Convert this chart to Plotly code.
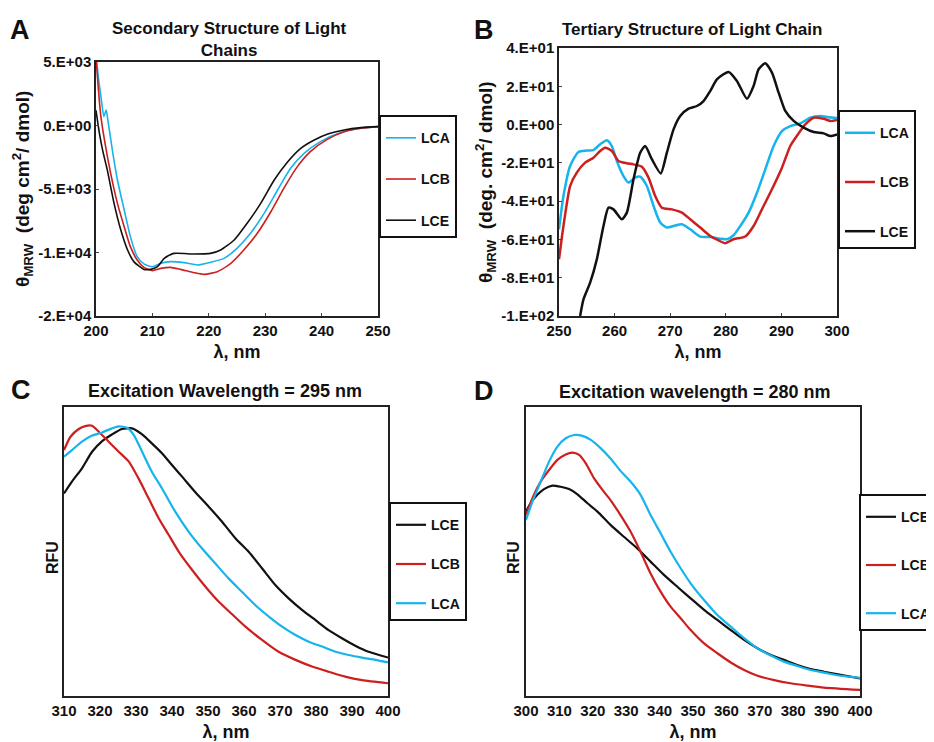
import plotly.graph_objects as go

# ---------------- Panel A: far-UV CD ----------------
a_lca_x = [200.0, 200.5, 200.8, 201.4, 201.8, 202.1, 202.9, 203.8, 205.0, 206.1, 207.3, 208.5, 210.0, 211.5, 213.2, 215.6, 218.0, 220.3, 222.7, 225.0, 227.4, 229.8, 232.2, 234.5, 236.9, 239.8, 243.4, 247.0, 250.0]
a_lca_y = [5600, 3500, 2530, 700, 1220, 440, -1930, -4290, -6650, -8750, -10320, -10900, -11120, -10850, -10720, -10800, -10980, -10770, -10460, -9670, -8490, -6920, -5080, -3370, -2190, -1270, -560, -220, -90]
a_lcb_x = [200.0, 200.4, 200.8, 201.4, 202.6, 203.8, 205.0, 206.1, 207.3, 208.5, 210.0, 211.5, 213.2, 215.0, 217.4, 219.2, 221.5, 223.9, 226.2, 228.6, 231.0, 233.3, 235.7, 238.0, 241.0, 244.0, 247.0, 250.0]
a_lcb_y = [5300, 3000, 960, -880, -3770, -6130, -7970, -9540, -10590, -11170, -11430, -11250, -11170, -11330, -11590, -11720, -11510, -10850, -9800, -8490, -6790, -4950, -3240, -2060, -1090, -490, -220, -90]
a_lce_x = [200.0, 200.6, 201.2, 202.0, 203.2, 204.4, 205.6, 206.7, 208.5, 209.7, 210.9, 212.1, 213.8, 217.4, 220.3, 222.1, 224.5, 226.8, 229.2, 231.6, 234.0, 236.3, 238.7, 241.1, 244.0, 247.0, 250.0]
a_lce_y = [1200, -600, -2000, -3500, -6130, -8230, -9800, -10720, -11330, -11330, -11120, -10460, -10070, -10120, -10070, -9800, -9020, -7700, -6130, -4290, -2850, -1800, -1140, -670, -350, -170, -90]
a_yticks = [5000, 0, -5000, -10000, -15000]
a_yticklabels = ["5.E+03", "0.E+00", "-5.E+03", "-1.E+04", "-2.E+04"]

# ---------------- Panel B: near-UV CD ----------------
b_lca_x = [250.0, 250.8, 252.0, 253.5, 255.0, 256.2, 257.4, 258.6, 259.5, 260.4, 261.6, 262.5, 263.7, 264.6, 265.8, 267.0, 268.2, 269.4, 270.6, 272.1, 273.6, 275.4, 277.2, 279.0, 280.2, 281.4, 282.6, 284.1, 285.6, 287.1, 288.6, 290.1, 291.6, 293.4, 295.2, 297.0, 298.5, 300.0]
b_lca_y = [-54.7, -37.3, -21.6, -14.3, -13.6, -13.3, -10.3, -8.2, -11.2, -19.0, -26.9, -30.3, -27.7, -27.2, -32.1, -42.5, -51.2, -53.8, -53.0, -52.1, -54.7, -58.5, -58.7, -59.6, -59.9, -57.8, -53.0, -46.0, -35.6, -23.4, -11.2, -3.4, -0.8, 0.6, 3.6, 4.5, 3.8, 3.4]
b_lcb_x = [250.0, 250.8, 252.0, 253.2, 254.7, 256.2, 257.4, 258.3, 259.5, 260.7, 262.2, 263.4, 264.9, 266.1, 267.3, 268.5, 270.3, 272.1, 273.6, 275.4, 277.2, 278.7, 279.9, 281.4, 283.5, 285.0, 286.5, 288.3, 290.1, 291.6, 293.1, 294.3, 295.8, 297.6, 298.8, 300.0]
b_lcb_y = [-70.4, -53.0, -32.1, -25.1, -19.9, -17.3, -13.8, -12.1, -13.8, -19.0, -20.2, -20.8, -22.0, -27.7, -37.3, -43.4, -44.3, -46.0, -49.5, -53.8, -58.2, -60.5, -62.0, -59.9, -58.5, -53.0, -44.3, -33.8, -22.5, -11.2, -4.6, 0.1, 3.6, 3.0, 1.9, 2.4]
b_lce_x = [253.8, 254.4, 255.6, 256.8, 258.0, 258.9, 259.8, 261.3, 262.2, 263.4, 264.6, 265.5, 266.7, 268.3, 269.4, 270.6, 271.8, 273.3, 274.8, 276.0, 277.2, 278.4, 280.5, 282.0, 283.8, 285.0, 285.9, 287.1, 288.3, 289.5, 290.7, 292.2, 294.0, 295.8, 297.6, 298.8, 300.0]
b_lce_y = [-100.0, -91.3, -82.6, -70.4, -53.0, -43.4, -44.3, -49.5, -46.0, -28.6, -14.7, -11.2, -18.1, -25.5, -14.7, -2.5, 4.5, 8.3, 9.7, 12.3, 17.5, 23.6, 27.5, 22.8, 13.5, 20.2, 28.9, 32.0, 27.1, 16.7, 7.1, 1.9, -1.6, -3.9, -4.6, -6.0, -5.1]
b_yticks = [40, 20, 0, -20, -40, -60, -80, -100]
b_yticklabels = ["4.E+01", "2.E+01", "0.E+00", "-2.E+01", "-4.E+01", "-6.E+01", "-8.E+01", "-1.E+02"]

# ---------------- Panel C: fluorescence, excitation 295 nm ----------------
c_lce_x = [310.0, 312.2, 315.0, 317.8, 320.6, 323.3, 326.1, 328.9, 331.7, 334.4, 337.2, 340.0, 342.8, 346.5, 350.2, 353.9, 357.6, 361.3, 365.0, 368.7, 372.4, 376.1, 379.8, 383.5, 387.2, 390.9, 394.6, 400.0]
c_lce_y = [70.1, 74.2, 78.8, 84.5, 88.2, 90.5, 92.4, 92.6, 90.5, 87.4, 84.0, 79.9, 75.9, 70.5, 65.5, 60.3, 54.6, 49.9, 44.2, 38.4, 33.8, 29.8, 26.3, 22.8, 20.0, 17.4, 15.3, 13.3]
c_lcb_x = [310.0, 311.8, 314.1, 315.9, 317.8, 319.6, 322.4, 325.2, 328.0, 330.7, 333.5, 336.3, 339.1, 341.9, 345.6, 349.3, 353.0, 356.7, 360.4, 365.0, 369.6, 374.3, 378.9, 383.5, 388.1, 392.8, 400.0]
c_lcb_y = [85.1, 89.7, 92.4, 93.4, 93.5, 91.5, 88.0, 84.5, 81.1, 75.3, 68.4, 61.5, 55.7, 49.9, 43.6, 37.8, 32.6, 28.3, 24.0, 19.4, 15.3, 12.5, 10.2, 8.4, 6.7, 5.5, 4.4]
c_lca_x = [310.0, 312.2, 315.0, 317.8, 320.6, 323.3, 325.2, 327.5, 329.4, 331.7, 334.4, 337.2, 340.9, 344.6, 348.3, 352.0, 355.7, 359.4, 363.1, 366.9, 370.6, 374.3, 378.0, 381.7, 385.4, 389.1, 392.8, 396.5, 400.0]
c_lca_y = [82.8, 85.1, 88.0, 90.1, 91.2, 92.6, 93.3, 92.8, 90.3, 84.5, 77.6, 71.9, 63.8, 56.9, 51.1, 45.9, 40.7, 36.1, 31.5, 27.5, 24.0, 21.1, 18.8, 17.1, 15.3, 14.2, 13.3, 12.5, 11.6]

# ---------------- Panel D: fluorescence, excitation 280 nm ----------------
d_lce_x = [300.0, 301.4, 303.4, 305.4, 307.9, 310.4, 312.9, 315.4, 318.4, 321.4, 325.3, 329.3, 333.3, 337.3, 341.3, 345.3, 349.3, 353.3, 357.3, 361.3, 365.3, 369.3, 373.3, 377.2, 381.2, 385.2, 389.2, 394.2, 400.0]
d_lce_y = [63.8, 66.7, 69.6, 71.6, 72.8, 72.4, 71.6, 69.8, 66.7, 63.8, 59.2, 55.1, 51.1, 46.5, 41.9, 37.8, 33.8, 29.8, 26.3, 22.8, 19.4, 16.5, 14.2, 12.5, 10.7, 9.3, 8.4, 7.3, 6.1]
d_lcb_x = [300.0, 301.9, 304.4, 306.9, 309.4, 311.9, 313.9, 315.9, 317.9, 320.4, 322.9, 325.3, 328.3, 331.3, 334.3, 337.3, 340.3, 343.3, 346.3, 349.3, 353.3, 357.3, 361.3, 365.3, 369.3, 374.3, 379.2, 384.2, 389.2, 400.0]
d_lcb_y = [62.6, 68.4, 74.2, 78.2, 81.7, 83.6, 84.2, 83.4, 80.5, 75.3, 71.3, 67.8, 62.6, 56.9, 49.9, 42.4, 36.1, 30.9, 26.9, 22.8, 18.2, 14.8, 11.6, 9.0, 7.0, 5.5, 4.4, 3.6, 2.9, 2.1]
d_lca_x = [300.0, 301.9, 304.4, 306.9, 309.4, 311.9, 314.4, 316.9, 319.4, 322.4, 325.3, 328.3, 331.3, 334.3, 337.3, 340.3, 343.3, 346.3, 349.3, 353.3, 357.3, 361.3, 365.3, 369.3, 373.3, 377.2, 381.2, 385.2, 389.2, 394.2, 400.0]
d_lca_y = [60.9, 67.2, 74.2, 81.1, 86.3, 89.2, 90.3, 90.0, 88.6, 85.7, 82.2, 77.9, 74.2, 69.6, 62.6, 56.3, 49.9, 44.2, 39.0, 33.2, 28.0, 24.0, 20.0, 16.5, 14.0, 11.9, 10.4, 9.0, 8.1, 7.0, 6.3]

BLUE = "#16b4ec"
RED = "#cc1f1f"
BLACK = "#111111"
OFF = 8                      # page body margin of the browser
W, H = 934 - OFF, 742 - OFF
NARROW = "Liberation Sans Narrow, Liberation Sans, Arial, sans-serif"
SANS = "Liberation Sans, Arial, sans-serif"

fig = go.Figure()

def add(x, y, name, color, width, xa, ya, legend):
    fig.add_trace(go.Scatter(x=x, y=y, mode="lines", name=name,
                             line=dict(color=color, width=width, shape="spline", smoothing=0.6),
                             xaxis=xa, yaxis=ya, legend=legend, legendgroup=legend + name))

add(a_lca_x, a_lca_y, "LCA", BLUE, 1.6, "x", "y", "legend")
add(a_lcb_x, a_lcb_y, "LCB", RED, 1.6, "x", "y", "legend")
add(a_lce_x, a_lce_y, "LCE", BLACK, 1.6, "x", "y", "legend")
add(b_lca_x, b_lca_y, "LCA", BLUE, 2.5, "x2", "y2", "legend2")
add(b_lcb_x, b_lcb_y, "LCB", RED, 2.5, "x2", "y2", "legend2")
add(b_lce_x, b_lce_y, "LCE", BLACK, 2.5, "x2", "y2", "legend2")
add(c_lce_x, c_lce_y, "LCE", BLACK, 2.2, "x3", "y3", "legend3")
add(c_lcb_x, c_lcb_y, "LCB", RED, 2.2, "x3", "y3", "legend3")
add(c_lca_x, c_lca_y, "LCA", BLUE, 2.2, "x3", "y3", "legend3")
add(d_lce_x, d_lce_y, "LCE", BLACK, 2.2, "x4", "y4", "legend4")
add(d_lcb_x, d_lcb_y, "LCB", RED, 2.2, "x4", "y4", "legend4")
add(d_lca_x, d_lca_y, "LCA", BLUE, 2.2, "x4", "y4", "legend4")

def px_x(v): return (v - OFF) / W
def px_y(v): return 1 - (v - OFF) / H

axis_line = dict(showline=True, mirror=True, linecolor="#222222", linewidth=1.5,
                 showgrid=False, zeroline=False)
tick_narrow = dict(family=NARROW, size=15, color="#111111")
tick_sans = dict(family=SANS, size=15, color="#111111")
xtitle = dict(text="<b>λ, nm</b>", font=dict(family=SANS, size=18, color="#111111"))

fig.update_layout(
    width=W, height=H, margin=dict(l=0, r=0, t=0, b=0, autoexpand=False),
    paper_bgcolor="white", plot_bgcolor="white", showlegend=True,
    xaxis=dict(domain=[px_x(96), px_x(378)], range=[200, 250], dtick=10, anchor="y",
               ticks="inside", ticklen=3, tickfont=tick_narrow, title=dict(standoff=8, **xtitle),
               tickprefix="<b>", ticksuffix="</b>", **axis_line),
    yaxis=dict(domain=[px_y(316), px_y(62)], range=[-15000, 5000], anchor="x",
               tickmode="array", tickvals=a_yticks, ticktext=["<b>%s</b>" % t for t in a_yticklabels],
               ticks="inside", ticklen=3, tickfont=tick_narrow, **axis_line),
    xaxis2=dict(domain=[px_x(559), px_x(837)], range=[250, 300], dtick=10, anchor="y2",
                ticks="inside", ticklen=3, tickfont=tick_narrow, title=dict(standoff=8, **xtitle),
                tickprefix="<b>", ticksuffix="</b>", **axis_line),
    yaxis2=dict(domain=[px_y(316), px_y(48)], range=[-100, 40], anchor="x2",
                tickmode="array", tickvals=b_yticks, ticktext=["<b>%s</b>" % t for t in b_yticklabels],
                ticks="inside", ticklen=3, tickfont=tick_narrow, **axis_line),
    xaxis3=dict(domain=[px_x(64), px_x(388)], range=[310, 400], dtick=10, anchor="y3",
                ticks="", tickfont=tick_sans, title=dict(standoff=8, **xtitle),
                tickprefix="<b>", ticksuffix="</b>", **axis_line),
    yaxis3=dict(domain=[px_y(696), px_y(407)], range=[0, 100], anchor="x3",
                showticklabels=False, ticks="", **axis_line),
    xaxis4=dict(domain=[px_x(526), px_x(860)], range=[300, 400], dtick=10, anchor="y4",
                ticks="", tickfont=tick_sans, title=dict(standoff=8, **xtitle),
                tickprefix="<b>", ticksuffix="</b>", **axis_line),
    yaxis4=dict(domain=[px_y(696), px_y(407)], range=[0, 100], anchor="x4",
                showticklabels=False, ticks="", **axis_line),
)

def legend_cfg(x, y, gap):
    return dict(x=px_x(x), y=px_y(y), xanchor="left", yanchor="top", xref="paper", yref="paper",
                bordercolor="#111111", borderwidth=2, bgcolor="white",
                font=dict(family=SANS, size=14, color="#111111", weight="bold"),
                title=dict(text="&nbsp;", font=dict(size=4)),
                tracegroupgap=gap, traceorder="grouped", itemwidth=30)

fig.update_layout(
    legend=legend_cfg(379, 115, 20),
    legend2=legend_cfg(838, 110, 28),
    legend3=legend_cfg(389, 502, 18),
    legend4=legend_cfg(859, 494, 27),
)

ann = []
def text(x, y, s, size, family=SANS, angle=0):
    ann.append(dict(x=px_x(x), y=px_y(y), xref="paper", yref="paper", text=s, showarrow=False,
                    textangle=angle, xanchor="center", yanchor="middle",
                    font=dict(family=family, size=size, color="#111111")))

# panel letters
text(20, 30, "<b>A</b>", 27)
text(484, 30, "<b>B</b>", 27)
text(21, 390, "<b>C</b>", 27)
text(484, 391, "<b>D</b>", 27)
# titles
text(229, 39, "<b>Secondary Structure of Light<br>Chains</b>", 17, NARROW)
text(692, 29, "<b>Tertiary Structure of Light Chain</b>", 17, NARROW)
text(225, 391, "<b>Excitation Wavelength = 295 nm</b>", 18)
text(695, 392, "<b>Excitation wavelength = 280 nm</b>", 18)
# y-axis titles
text(22, 189, "<b>θ<sub>MRW</sub>  (deg cm<sup>2</sup>/ dmol)</b>", 19, angle=-90)
text(485, 182, "<b>θ<sub>MRW</sub>  (deg. cm<sup>2</sup>/ dmol)</b>", 19, angle=-90)
text(52, 558, "<b>RFU</b>", 16, angle=-90)
text(513, 558, "<b>RFU</b>", 16, angle=-90)
fig.update_layout(annotations=ann)

fig.write_html("out.html")
